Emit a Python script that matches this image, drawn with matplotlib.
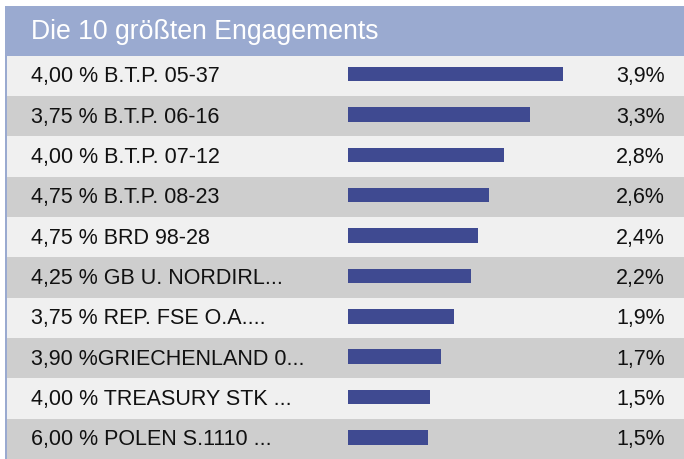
import matplotlib
matplotlib.use("Agg")
import matplotlib.pyplot as plt
from matplotlib.patches import Rectangle

title = "Die 10 größten Engagements"
names = [
	"4,00 % B.T.P. 05-37",
	"3,75 % B.T.P. 06-16",
	"4,00 % B.T.P. 07-12",
	"4,75 % B.T.P. 08-23",
	"4,75 % BRD 98-28",
	"4,25 % GB U. NORDIRL...",
	"3,75 % REP. FSE O.A....",
	"3,90 %GRIECHENLAND 0...",
	"4,00 % TREASURY STK ...",
	"6,00 % POLEN S.1110 ...",
]
# bar lengths (percent)
weights = [3.90, 3.31, 2.84, 2.56, 2.36, 2.24, 1.93, 1.69, 1.49, 1.46]
labels = ["3,9%", "3,3%", "2,8%", "2,6%", "2,4%", "2,2%", "1,9%", "1,7%", "1,5%", "1,5%"]

W, H = 684, 459
header_top, header_bot = 6, 55.5
row_h = (H - header_bot) / len(names)
px_per_pct = 55.0
bar_left = 348

plt.rcParams["font.family"] = ["Liberation Sans", "DejaVu Sans"]
fig = plt.figure(figsize=(W / 100, H / 100), dpi=100)
ax = fig.add_axes([0, 0, 1, 1])
ax.set_xlim(0, W)
ax.set_ylim(H, 0)
ax.axis("off")

# header
ax.add_patch(Rectangle((5, header_top), W - 5, header_bot - header_top, color="#9aaad0", lw=0))
ax.text(31, (header_top + header_bot) / 2 + 1, title, color="white", fontsize=19.2,
	va="center", ha="left")

centers = [header_bot + row_h * (i + 0.5) for i in range(len(names))]
row_colors = ["#f0f0f0" if i % 2 == 0 else "#cecece" for i in range(len(names))]
ax.barh(centers, [W - 7] * len(names), left=7, height=row_h, color=row_colors, lw=0)

# left border
ax.add_patch(Rectangle((5, header_top), 2, H - header_top, color="#9aaad0", lw=0))

ax.barh([c - 1.5 for c in centers], [w * px_per_pct for w in weights], left=bar_left,
	height=14.5, color="#3f4a91", lw=0)

for c, n, l in zip(centers, names, labels):
	ax.text(31, c + 1, n, fontsize=15.5, va="center", ha="left", color="#111111")
	ax.text(665, c + 1, l, fontsize=15.5, va="center", ha="right", color="#111111")

fig.savefig("out.png", dpi=100)
